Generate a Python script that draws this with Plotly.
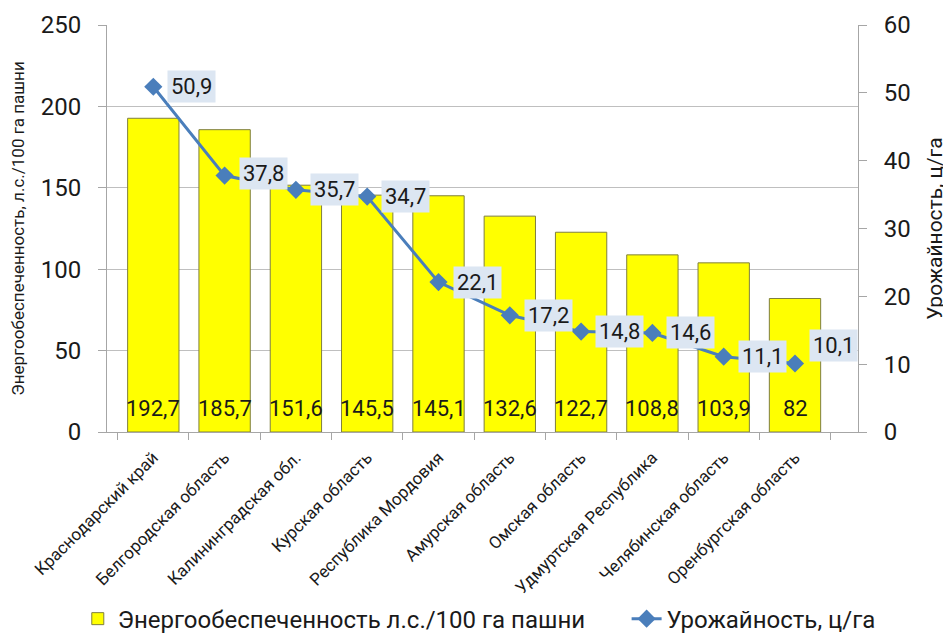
import plotly.graph_objects as go

regions = ["Краснодарский край", "Белгородская область", "Калининградская обл.",
           "Курская область", "Республика Мордовия", "Амурская область",
           "Омская область", "Удмуртская Республика", "Челябинская область",
           "Оренбургская область"]
energy = [192.7, 185.7, 151.6, 145.5, 145.1, 132.6, 122.7, 108.8, 103.9, 82]
yield_ = [50.9, 37.8, 35.7, 34.7, 22.1, 17.2, 14.8, 14.6, 11.1, 10.1]

# vertical nudges of the yield labels (pixels)
label_yshift = [0, 2, 0, 0, 0, 0, 0, 0, 0, 18]

def fmt(v):
    return ("%g" % v).replace(".", ",")

FONT = "Roboto, Open Sans, sans-serif"
TXT = "#1a1a1a"

fig = go.Figure()
fig.add_trace(go.Bar(
    x=regions, y=energy, name="Энергообеспеченность л.с./100 га пашни",
    marker=dict(color="#FFFF00", line=dict(color="#7f7f3f", width=1)),
    yaxis="y", legend="legend",
))
fig.add_trace(go.Scatter(
    x=regions, y=yield_, name="Урожайность, ц/га", yaxis="y2",
    mode="lines+markers",
    line=dict(color="#4a7ebb", width=3),
    marker=dict(symbol="diamond", size=14, color="#4a7ebb"),
    legend="legend2",
))

ann = []
for r, v in zip(regions, energy):
    ann.append(dict(x=r, y=0, xref="x", yref="y", text=fmt(v), showarrow=False,
                    yanchor="middle", yshift=24, font=dict(size=22, color=TXT, family=FONT)))
for r, v, s in zip(regions, yield_, label_yshift):
    ann.append(dict(x=r, y=v, xref="x", yref="y2", text=fmt(v), showarrow=False,
                    xanchor="left", yanchor="middle", xshift=14, yshift=s,
                    bgcolor="#dce6f2", borderpad=3,
                    font=dict(size=22, color=TXT, family=FONT)))

leg_common = dict(orientation="h", xref="container", yref="container",
                  yanchor="middle", y=0.027, xanchor="left",
                  font=dict(size=24, family=FONT, color=TXT), itemwidth=30,
                  bgcolor="rgba(0,0,0,0)")

# the page body adds an 8 px offset, so the figure is 8 px smaller than the window
fig.update_layout(
    width=943, height=628,
    margin=dict(l=99, r=93, t=17, b=204),
    paper_bgcolor="white", plot_bgcolor="white",
    bargap=0.28,
    separators=", ",
    font=dict(family=FONT, color=TXT),
    annotations=ann,
    showlegend=True,
    xaxis=dict(tickangle=-45, tickfont=dict(size=17, family=FONT, color=TXT),
               showline=True, linecolor="#a6a6a6", ticks="outside", ticklen=7,
               tickcolor="#a6a6a6", tickson="boundaries", showgrid=False,
               ticklabelstandoff=8, automargin=False),
    yaxis=dict(range=[0, 250], dtick=50, showgrid=True, gridcolor="#bfbfbf",
               showline=True, linecolor="#a6a6a6", ticks="outside", ticklen=8,
               tickcolor="#a6a6a6", ticklabelstandoff=12,
               tickfont=dict(size=24, family=FONT, color=TXT), automargin=False,
               title=dict(text="Энергообеспеченность, л.с./100 га пашни",
                          font=dict(size=17, family=FONT, color=TXT), standoff=11)),
    yaxis2=dict(range=[0, 60], dtick=10, overlaying="y", side="right", showgrid=False,
                showline=True, linecolor="#a6a6a6", ticks="outside", ticklen=8,
                tickcolor="#a6a6a6", ticklabelstandoff=12,
                tickfont=dict(size=24, family=FONT, color=TXT), automargin=False,
                title=dict(text="Урожайность, ц/га", font=dict(size=21, family=FONT, color=TXT),
                           standoff=17)),
    legend=dict(leg_common, x=0.074),
    legend2=dict(leg_common, x=0.656),
)

fig.write_html("out.html")
